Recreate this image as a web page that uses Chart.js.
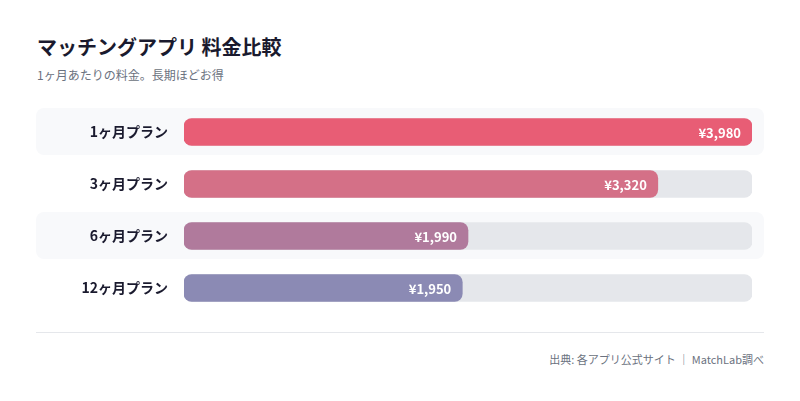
<!DOCTYPE html>
<html>
<head>
<meta charset="utf-8">
<script src="https://cdn.jsdelivr.net/npm/chart.js@4"></script>
<style>
  body { margin: 0; background: #fff; font-family: "Noto Sans CJK JP", "Noto Sans", sans-serif; }
  #page { position: relative; width: 800px; height: 401px; }
  #title { position: absolute; left: 37px; top: 33px; font-size: 20px; font-weight: 700; color: #1a1a2e; line-height: 28px; }
  #subtitle { position: absolute; left: 37px; top: 66px; font-size: 12px; color: #6b7280; line-height: 18px; }
  #chartBox { position: absolute; left: 36px; top: 106px; width: 728px; height: 208px; }
  #divider { position: absolute; left: 36px; top: 332px; width: 728px; height: 1px; background: #e5e7eb; }
  #footer { position: absolute; right: 36px; top: 350px; font-size: 11px; color: #6b7280; line-height: 18px; }
</style>
</head>
<body>
<div id="page">
  <div id="title">マッチングアプリ 料金比較</div>
  <div id="subtitle">1ヶ月あたりの料金。長期ほどお得</div>
  <div id="chartBox"><canvas id="myChart" width="728" height="208"></canvas></div>
  <div id="divider"></div>
  <div id="footer">出典: 各アプリ公式サイト ｜ MatchLab調べ</div>
</div>
<script>
const plans = ['1ヶ月プラン', '3ヶ月プラン', '6ヶ月プラン', '12ヶ月プラン'];
const prices = [3980, 3320, 1990, 1950];
const barColors = ['#e85d75', '#d47087', '#b07a9c', '#8b8ab4'];
const maxPrice = 3980;

const ctx = document.getElementById('myChart').getContext('2d');

// striped row backgrounds, drawn before the axis labels
const rowStripes = {
  id: 'rowStripes',
  beforeDraw(chart) {
    const { ctx, width } = chart;
    const y = chart.scales.y;
    ctx.save();
    ctx.fillStyle = '#f8f9fb';
    plans.forEach((p, i) => {
      if (i % 2 !== 0) return;
      const cy = y.getPixelForValue(i);
      ctx.beginPath();
      ctx.roundRect(0, cy - 24, width, 47, 8);
      ctx.fill();
    });
    ctx.restore();
  }
};

// price text at the end of each bar
const valueLabels = {
  id: 'valueLabels',
  afterDatasetsDraw(chart) {
    const { ctx } = chart;
    const meta = chart.getDatasetMeta(1);
    ctx.save();
    ctx.fillStyle = '#ffffff';
    ctx.font = '700 13px "Noto Sans CJK JP", "Noto Sans", sans-serif';
    ctx.textAlign = 'right';
    ctx.textBaseline = 'middle';
    meta.data.forEach((bar, i) => {
      ctx.fillText('¥' + prices[i].toLocaleString('en-US'), bar.x - 11, bar.y + 1);
    });
    ctx.restore();
  }
};

const chart = new Chart(ctx, {
  type: 'bar',
  data: {
    labels: plans,
    datasets: [{
      label: 'track',
      data: plans.map(() => maxPrice),
      backgroundColor: '#e5e7eb',
      borderRadius: 8,
      borderSkipped: false,
      barThickness: 27,
      order: 2
    }, {
      label: 'price',
      data: prices,
      backgroundColor: barColors,
      borderRadius: 8,
      borderSkipped: false,
      barThickness: 27,
      order: 1
    }]
  },
  options: {
    indexAxis: 'y',
    responsive: false,
    animation: false,
    layout: { padding: { left: 0, right: 12, top: 0, bottom: 0 } },
    datasets: { bar: { grouped: false } },
    plugins: {
      legend: { display: false },
      tooltip: { enabled: false }
    },
    scales: {
      x: { display: false, min: 0, max: maxPrice },
      y: {
        grid: { display: false, drawTicks: false },
        border: { display: false },
        ticks: {
          autoSkip: false,
          padding: 16,
          color: '#1a1a2e',
          font: { family: '"Noto Sans CJK JP", "Noto Sans", sans-serif', size: 14, weight: '700' }
        },
        afterFit(scale) {
          scale.width = 148;
          scale.paddingTop = 0;
          scale.paddingBottom = 0;
        }
      }
    }
  },
  plugins: [rowStripes, valueLabels]
});
</script>
</body>
</html>
